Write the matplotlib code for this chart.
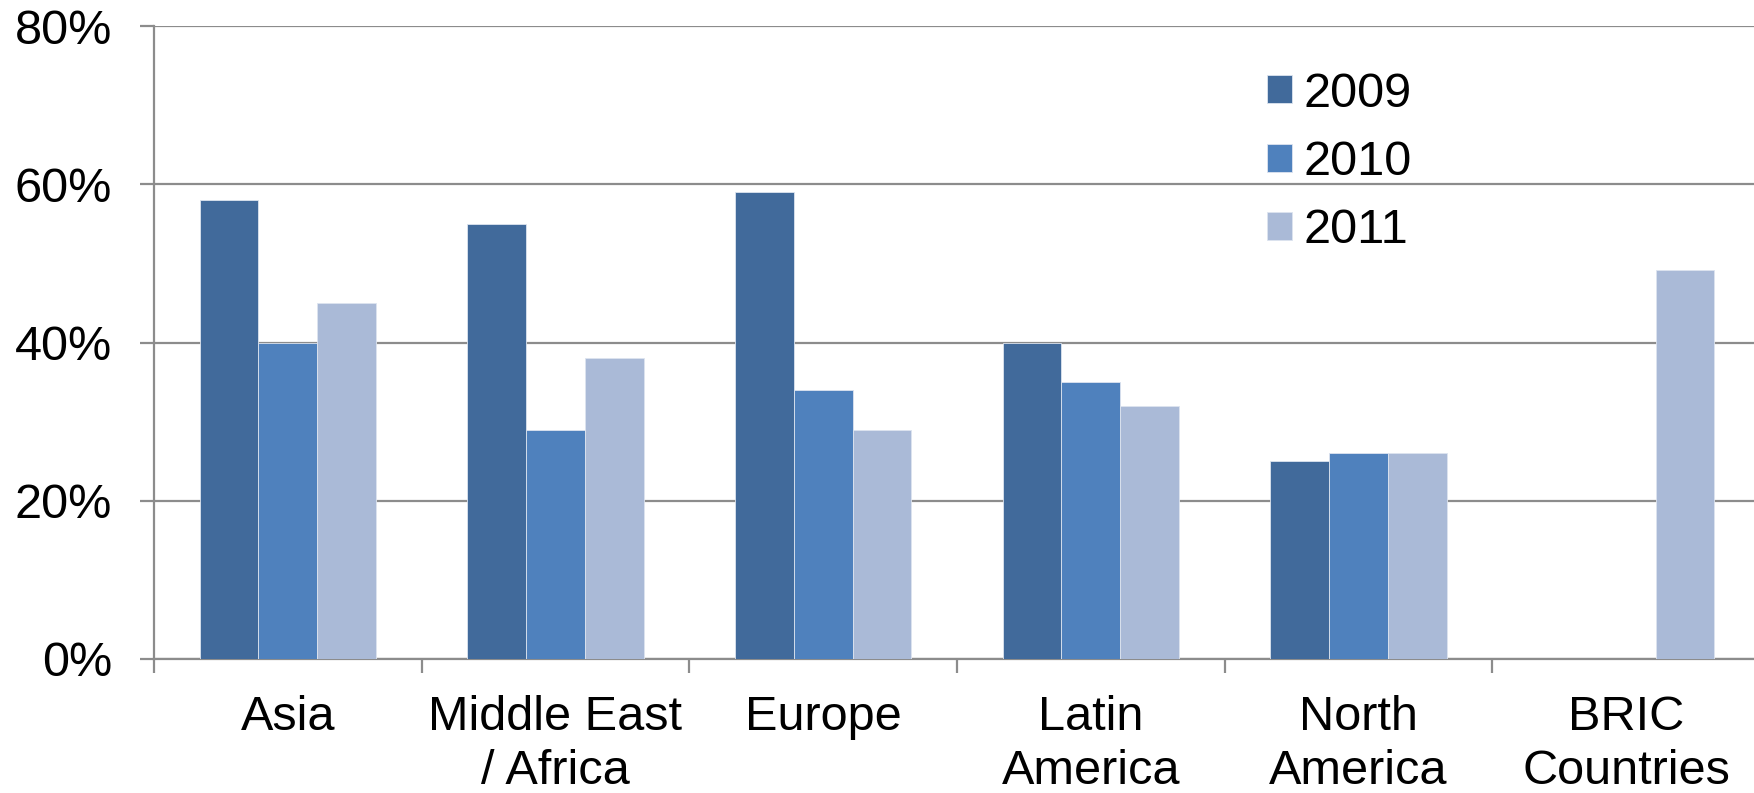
import matplotlib
matplotlib.use("Agg")
import matplotlib.pyplot as plt
import numpy as np

plt.rcParams['font.family'] = ['Liberation Sans', 'DejaVu Sans']

# Data (percent)
categories = ['Asia', 'Middle East\n/ Africa', 'Europe', 'Latin\nAmerica',
              'North\nAmerica', 'BRIC\nCountries']
years = ['2009', '2010', '2011']
vals_2009 = [58, 55, 59, 40, 25, np.nan]
vals_2010 = [40, 29, 34, 35, 26, np.nan]
vals_2011 = [45, 38, 29, 32, 26, 49.2]
colors = ['#416A9B', '#4F81BD', '#AABAD7']
yticks = [0, 20, 40, 60, 80]

grid_col = '#8C8C8C'
fs = 35

# Set up the figure
fig = plt.figure(figsize=(17.54, 7.93), dpi=100)
ax = fig.add_axes([154 / 1754, 134 / 793, 1606 / 1754, 633 / 793])

x = np.arange(len(categories))
w = 0.22
for i, (vals, col, yr) in enumerate(zip([vals_2009, vals_2010, vals_2011], colors, years)):
    ax.bar(x + (i - 1) * w, vals, width=w, color=col, edgecolor='#DDE4EF',
           linewidth=0.6, label=yr, zorder=3)

# Axes and grid
ax.set_xlim(-0.5, len(categories) - 0.5)
ax.set_ylim(0, 80)
ax.set_yticks(yticks)
ax.set_yticklabels([f'{t}%' for t in yticks])
ax.yaxis.grid(True, color=grid_col, linewidth=1.6, zorder=0)
ax.set_axisbelow(True)

for s in ['top', 'right']:
    ax.spines[s].set_visible(False)
for s in ['left', 'bottom']:
    ax.spines[s].set_color(grid_col)
    ax.spines[s].set_linewidth(1.6)

ax.tick_params(axis='y', length=10, width=1.6, color=grid_col, pad=20, labelsize=fs)
ax.set_xticks(np.arange(len(categories) + 1) - 0.5)
ax.set_xticklabels([])
ax.set_xticks(x, minor=True)
ax.set_xticklabels(categories, minor=True, fontsize=fs, linespacing=1.25)
ax.tick_params(axis='x', which='major', length=10, width=1.6, color=grid_col)
ax.tick_params(axis='x', which='minor', length=0, pad=26)

# Legend
ax.legend(loc='upper left', bbox_to_anchor=(0.693, 0.928), frameon=False,
          fontsize=fs, handlelength=0.51, handleheight=0.51,
          handletextpad=0.25, labelspacing=0.48, borderpad=0, borderaxespad=0)

fig.savefig('out.png', dpi=100)
